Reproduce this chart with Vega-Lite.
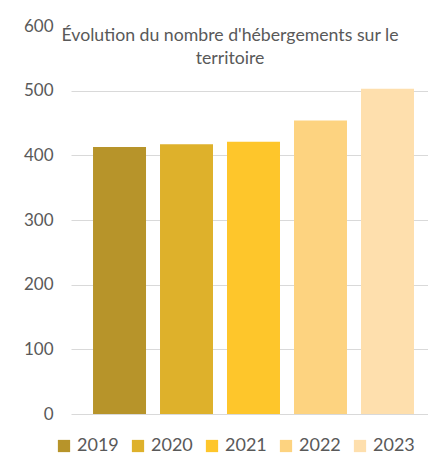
{
  "$schema": "https://vega.github.io/schema/vega-lite/v6.json",
  "width": 357,
  "height": 388,
  "autosize": {"type": "none"},
  "padding": {"left": 71, "top": 26, "right": 0, "bottom": 48},
  "background": "white",
  "data": {"values": [
    {"year": "2019", "value": 413},
    {"year": "2020", "value": 417},
    {"year": "2021", "value": 421},
    {"year": "2022", "value": 454},
    {"year": "2023", "value": 503}
  ]},
  "title": {
    "text": ["Évolution du nombre d'hébergements sur le", "territoire"],
    "anchor": "middle",
    "frame": "group",
    "font": "Lato",
    "fontSize": 17.7,
    "fontWeight": "normal",
    "color": "#595959",
    "lineHeight": 23,
    "baseline": "top",
    "offset": 0,
    "dx": -19.5,
    "dy": 51
  },
  "mark": {"type": "bar"},
  "encoding": {
    "x": {
      "field": "year",
      "type": "nominal",
      "axis": null,
      "scale": {"paddingInner": 0.209, "paddingOuter": 0.269, "align": 0.611}
    },
    "y": {
      "field": "value",
      "type": "quantitative",
      "scale": {"domain": [0, 600], "nice": false},
      "axis": {
        "values": [0, 100, 200, 300, 400, 500, 600],
        "title": null,
        "domain": false,
        "ticks": false,
        "labelPadding": 18,
        "labelFont": "Lato",
        "labelFontSize": 17,
        "labelColor": "#595959",
        "gridColor": "#D9D9D9",
        "gridOpacity": {"condition": {"test": "datum.value === 600", "value": 0}, "value": 1}
      }
    },
    "color": {
      "field": "year",
      "type": "nominal",
      "scale": {
        "domain": ["2019", "2020", "2021", "2022", "2023"],
        "range": ["#B7942A", "#DEB12B", "#FEC62B", "#FDD380", "#FEDFAD"]
      },
      "legend": {
        "orient": "none",
        "legendX": -16,
        "legendY": 411,
        "padding": 0,
        "direction": "horizontal",
        "title": null,
        "symbolType": "square",
        "symbolSize": 150,
        "symbolStrokeWidth": 0,
        "symbolOpacity": 1,
        "labelFont": "Lato",
        "labelFontSize": 18,
        "labelColor": "#595959",
        "labelOffset": 4,
        "columnPadding": 10
      }
    }
  },
  "config": {"view": {"stroke": null}}
}
